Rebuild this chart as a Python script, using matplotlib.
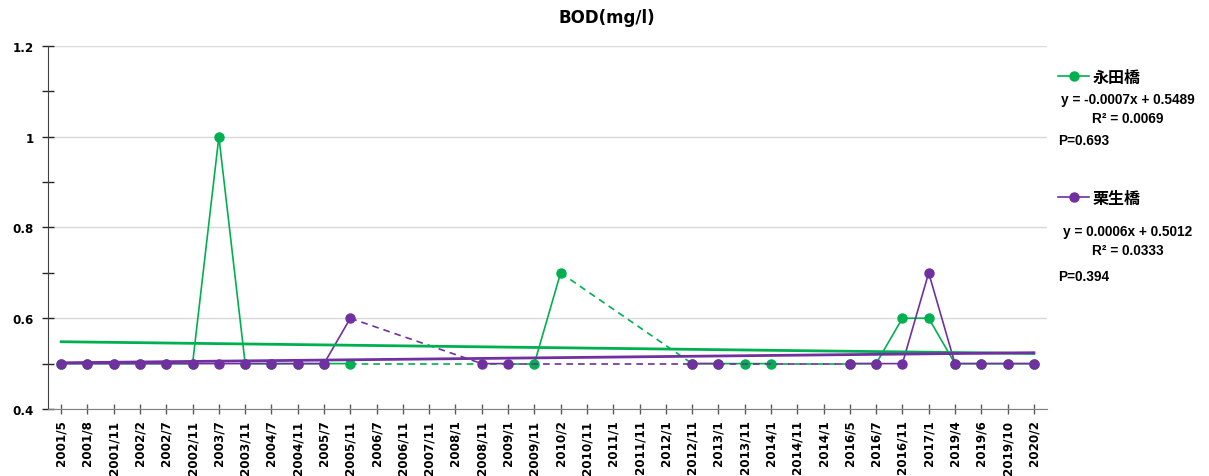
import numpy as np
import matplotlib.pyplot as plt
from matplotlib.lines import Line2D

plt.rcParams['font.family'] = ['DejaVu Sans', 'Noto Sans CJK JP']

dates = ['2001/5', '2001/8', '2001/11', '2002/2', '2002/7', '2002/11', '2003/7', '2003/11',
         '2004/7', '2004/11', '2005/7', '2005/11', '2006/7', '2006/11', '2007/11', '2008/1',
         '2008/11', '2009/1', '2009/11', '2010/2', '2010/11', '2011/1', '2011/11', '2012/1',
         '2012/11', '2013/1', '2013/11', '2014/1', '2014/11', '2014/1', '2016/5', '2016/7',
         '2016/11', '2017/1', '2019/4', '2019/6', '2019/10', '2020/2']

nan = np.nan
nagata = [0.5, 0.5, 0.5, 0.5, 0.5, 0.5, 1.0, 0.5, 0.5, 0.5, 0.5, 0.5, nan, nan, nan, nan,
          nan, nan, 0.5, 0.7, nan, nan, nan, nan, 0.5, 0.5, 0.5, 0.5, nan, nan, 0.5, 0.5,
          0.6, 0.6, 0.5, 0.5, 0.5, 0.5]
kuryu = [0.5, 0.5, 0.5, 0.5, 0.5, 0.5, 0.5, 0.5, 0.5, 0.5, 0.5, 0.6, nan, nan, nan, nan,
         0.5, 0.5, nan, nan, nan, nan, nan, nan, 0.5, 0.5, nan, nan, nan, nan, 0.5, 0.5,
         0.5, 0.7, 0.5, 0.5, 0.5, 0.5]

names = ['永田橋', '栗生橋']
colors = ['#00B050', '#7030A0']
slopes = [-0.0007, 0.0006]
intercepts = [0.5489, 0.5012]
r2 = ['0.0069', '0.0333']
pvals = ['0.693', '0.394']

fig = plt.figure(figsize=(12.09, 4.77), dpi=100)
ax = fig.add_axes([0.0397, 0.1405, 0.8263, 0.761])

x = np.arange(len(dates))
series = [np.array(nagata), np.array(kuryu)]

for k, (vals, col) in enumerate(zip(series, colors)):
    z = 3 + k
    ax.plot(x, vals, color=col, lw=1.2, marker='o', ms=6.5, zorder=z)
    # dashed connectors across missing months
    idx = np.where(~np.isnan(vals))[0]
    for a, b in zip(idx[:-1], idx[1:]):
        if b - a > 1:
            ax.plot([a, b], [vals[a], vals[b]], color=col, lw=1.2, ls=(0, (4, 3)), zorder=z - 0.5)

for k, col in enumerate(colors):
    xx = np.array([0, len(dates) - 1])
    ax.plot(xx, intercepts[k] + slopes[k] * (xx + 1), color=col, lw=2.0, zorder=6)

ax.set_xlim(-0.5, len(dates) - 0.5)
ax.set_ylim(0.4, 1.2)
ax.set_yticks([0.4, 0.6, 0.8, 1.0, 1.2])
ax.set_yticklabels(['0.4', '0.6', '0.8', '1', '1.2'])
ax.set_yticks([0.5, 0.7, 0.9, 1.1], minor=True)
ax.set_xticks(x)
ax.set_xticklabels(dates, rotation=90)
ax.set_xticks(np.arange(-0.5, len(dates)), minor=True)

for lab in ax.get_xticklabels() + ax.get_yticklabels():
    lab.set_fontweight('bold')
    lab.set_fontsize(8.6)

ax.tick_params(axis='x', which='major', direction='inout', length=7, width=1, color='#595959', pad=4)
ax.tick_params(axis='x', which='minor', length=0)
ax.tick_params(axis='y', which='both', direction='inout', length=8, width=1, color='#262626', pad=6)
ax.grid(axis='y', which='major', color='#d9d9d9', lw=1)
ax.set_axisbelow(True)
for s in ['top', 'right']:
    ax.spines[s].set_visible(False)
ax.spines['left'].set_color('#404040')
ax.spines['bottom'].set_color('#7f7f7f')

fig.text(0.502, 0.962, 'BOD(mg/l)', ha='center', va='center', fontsize=12, fontweight='bold')

# legend and regression notes on the right
note = {'family': ['Liberation Sans', 'DejaVu Sans'], 'weight': 'bold', 'size': 9.8}
leg_y = [78, 199]
eq_y = [100, 232]
r_y = [119, 251]
p_y = [141, 277]
for k, col in enumerate(colors):
    h = Line2D([], [], color=col, lw=1.2, marker='o', ms=6.5)
    fig.legend([h], [names[k]], loc='center left',
               bbox_to_anchor=(1044 / 1209, 1 - leg_y[k] / 477), frameon=False,
               handlelength=1.9, handletextpad=0.25,
               prop={'family': ['Noto Sans CJK JP'], 'weight': 'bold', 'size': 11.5})
    sign = '-' if slopes[k] < 0 else ''
    fig.text(1128 / 1209, 1 - eq_y[k] / 477, f'y = {sign}{abs(slopes[k]):.4f}x + {intercepts[k]:.4f}',
             ha='center', va='center', **note)
    fig.text(1128 / 1209, 1 - r_y[k] / 477, f'R² = {r2[k]}',
             ha='center', va='center', **note)
    fig.text(1058 / 1209, 1 - p_y[k] / 477, f'P={pvals[k]}',
             ha='left', va='center', **note)

fig.savefig('out.png', dpi=100)
